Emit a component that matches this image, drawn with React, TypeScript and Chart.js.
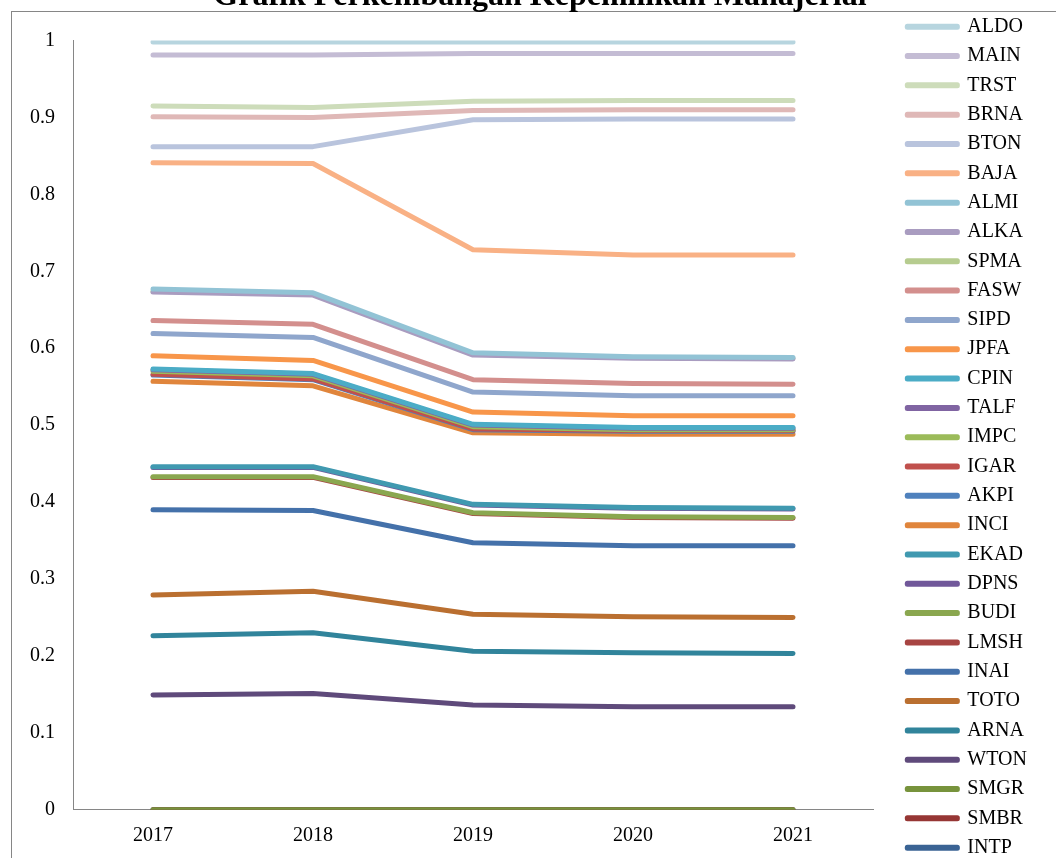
import React, { useEffect, useRef } from "react";
import { Chart, registerables } from "chart.js";

Chart.register(...registerables);

const FONT = "'Liberation Serif', 'Times New Roman', serif";

const chartTitle = "Grafik Perkembangan Kepemilikan Manajerial";
const years = ["2017", "2018", "2019", "2020", "2021"];

const ALDO = [0.998, 0.998, 0.998, 0.998, 0.998];
const MAIN = [0.981, 0.981, 0.983, 0.983, 0.983];
const TRST = [0.915, 0.913, 0.921, 0.922, 0.922];
const BRNA = [0.901, 0.9, 0.909, 0.91, 0.91];
const BTON = [0.862, 0.862, 0.897, 0.898, 0.898];
const BAJA = [0.841, 0.84, 0.728, 0.721, 0.721];
const ALMI = [0.677, 0.672, 0.594, 0.589, 0.588];
const ALKA = [0.673, 0.669, 0.591, 0.587, 0.586];
const SPMA = [0.674, 0.67, 0.592, 0.588, 0.587];
const FASW = [0.636, 0.631, 0.559, 0.554, 0.553];
const SIPD = [0.619, 0.614, 0.543, 0.538, 0.538];
const JPFA = [0.59, 0.584, 0.517, 0.512, 0.512];
const CPIN = [0.573, 0.567, 0.501, 0.497, 0.497];
const TALF = [0.572, 0.566, 0.5, 0.496, 0.496];
const IMPC = [0.57, 0.564, 0.498, 0.494, 0.494];
const IGAR = [0.566, 0.56, 0.495, 0.493, 0.493];
const AKPI = [0.565, 0.559, 0.494, 0.492, 0.492];
const INCI = [0.557, 0.551, 0.49, 0.488, 0.488];
const EKAD = [0.446, 0.446, 0.397, 0.393, 0.392];
const DPNS = [0.445, 0.445, 0.396, 0.392, 0.391];
const BUDI = [0.433, 0.433, 0.386, 0.381, 0.38];
const LMSH = [0.432, 0.432, 0.385, 0.38, 0.379];
const INAI = [0.39, 0.389, 0.347, 0.343, 0.343];
const TOTO = [0.279, 0.284, 0.254, 0.251, 0.25];
const ARNA = [0.226, 0.23, 0.206, 0.204, 0.203];
const WTON = [0.149, 0.151, 0.136, 0.134, 0.134];
const SMGR = [0, 0, 0, 0, 0];
const SMBR = [0, 0, 0, 0, 0];
const INTP = [0, 0, 0, 0, 0];

const seriesNames = [
  "ALDO", "MAIN", "TRST", "BRNA", "BTON", "BAJA", "ALMI", "ALKA", "SPMA", "FASW",
  "SIPD", "JPFA", "CPIN", "TALF", "IMPC", "IGAR", "AKPI", "INCI", "EKAD", "DPNS",
  "BUDI", "LMSH", "INAI", "TOTO", "ARNA", "WTON", "SMGR", "SMBR", "INTP",
];
const seriesValues = [
  ALDO, MAIN, TRST, BRNA, BTON, BAJA, ALMI, ALKA, SPMA, FASW,
  SIPD, JPFA, CPIN, TALF, IMPC, IGAR, AKPI, INCI, EKAD, DPNS,
  BUDI, LMSH, INAI, TOTO, ARNA, WTON, SMGR, SMBR, INTP,
];
const seriesColors = [
  "#B7D5DF", "#C4BCD4", "#CDDCBA", "#DFB8B7", "#B9C4DD", "#F9B185", "#92C3D5", "#A99CC0", "#B6CC8F", "#D38F8D",
  "#8FA6CC", "#F8964A", "#4BACC6", "#8064A2", "#9BBB59", "#C0504D", "#4F81BD", "#E0853C", "#4099B0", "#71589A",
  "#8AA74F", "#A74442", "#4471AA", "#BA6F30", "#31849B", "#5F4A7B", "#77933C", "#963634", "#3A6394",
];

const CANVAS_TOP = -40;
const CANVAS_W = 1060;
const CANVAS_H = 907;

const borderPlugin = {
  id: "outerBorder",
  beforeDraw(chart: any) {
    const ctx = chart.ctx;
    ctx.save();
    ctx.strokeStyle = "#868686";
    ctx.lineWidth = 1;
    ctx.strokeRect(11.5, 11.5 - CANVAS_TOP, 3000, 3000);
    ctx.restore();
  },
};

export default function App() {
  const canvasRef = useRef<HTMLCanvasElement | null>(null);

  useEffect(() => {
    if (!canvasRef.current) return;
    const datasets = seriesNames.map((name, i) => ({
      label: name,
      data: seriesValues[i],
      borderColor: seriesColors[i],
      backgroundColor: seriesColors[i],
      borderWidth: 5,
      pointRadius: 0,
      pointHoverRadius: 0,
      borderCapStyle: "round" as const,
      borderJoinStyle: "round" as const,
      tension: 0,
      fill: false,
      xAxisID: "x",
      yAxisID: "y",
    }));

    const chart = new Chart(canvasRef.current, {
      type: "line",
      data: { labels: years, datasets },
      plugins: [borderPlugin],
      options: {
        responsive: false,
        animation: false,
        events: [],
        layout: { padding: { left: 20, right: 0, top: 0, bottom: 0 } },
        plugins: {
          title: {
            display: true,
            text: chartTitle,
            color: "#000",
            font: { family: FONT, size: 32, weight: "bold" },
            padding: { top: 17.5, bottom: 24.6 },
          },
          legend: {
            display: true,
            position: "right",
            align: "end",
            labels: {
              font: { family: FONT, size: 20 },
              color: "#000",
              boxWidth: 50,
              boxHeight: 1,
              padding: 9.32,
              generateLabels: (c: any) =>
                c.data.datasets.map((ds: any, i: number) => ({
                  text: ds.label,
                  fillStyle: ds.borderColor,
                  strokeStyle: ds.borderColor,
                  lineWidth: 5,
                  lineJoin: "round",
                  lineCap: "round",
                  hidden: false,
                  datasetIndex: i,
                  fontColor: "#000",
                })),
            },
          },
          tooltip: { enabled: false },
        },
        scales: {
          x: {
            type: "category",
            offset: true,
            grid: { display: false, drawTicks: false },
            border: { display: true, color: "#868686", width: 1 },
            ticks: {
              font: { family: FONT, size: 20 },
              color: "#000",
              padding: 14.5,
              maxRotation: 0,
              autoSkip: false,
            },
            afterFit: (s: any) => {
              s.height = 57.3;
            },
          },
          y: {
            type: "linear",
            position: "left",
            min: 0,
            max: 1,
            grid: { display: false, drawTicks: false },
            border: { display: true, color: "#868686", width: 1 },
            ticks: {
              stepSize: 0.1,
              font: { family: FONT, size: 20 },
              color: "#000",
              padding: 18,
              callback: (v: any) => String(Number(Number(v).toFixed(1))),
            },
            afterFit: (s: any) => {
              s.width = 53;
            },
          },
          yGap: {
            type: "linear",
            position: "right",
            weight: 0,
            display: true,
            grid: { display: false, drawTicks: false },
            border: { display: false },
            ticks: { display: false },
            afterFit: (s: any) => {
              s.width = 25;
            },
          },
          yOuter: {
            type: "linear",
            position: "right",
            weight: 2000,
            display: true,
            grid: { display: false, drawTicks: false },
            border: { display: false },
            ticks: { display: false },
            afterFit: (s: any) => {
              s.width = 32;
            },
          },
        },
      } as any,
    });
    return () => chart.destroy();
  }, []);

  return (
    <div
      style={{
        position: "absolute",
        left: 0,
        top: 0,
        width: 1056,
        height: 858,
        overflow: "hidden",
        background: "#fff",
      }}
    >
      <canvas
        ref={canvasRef}
        width={CANVAS_W}
        height={CANVAS_H}
        style={{ position: "absolute", left: 0, top: CANVAS_TOP, width: CANVAS_W, height: CANVAS_H }}
      />
    </div>
  );
}
